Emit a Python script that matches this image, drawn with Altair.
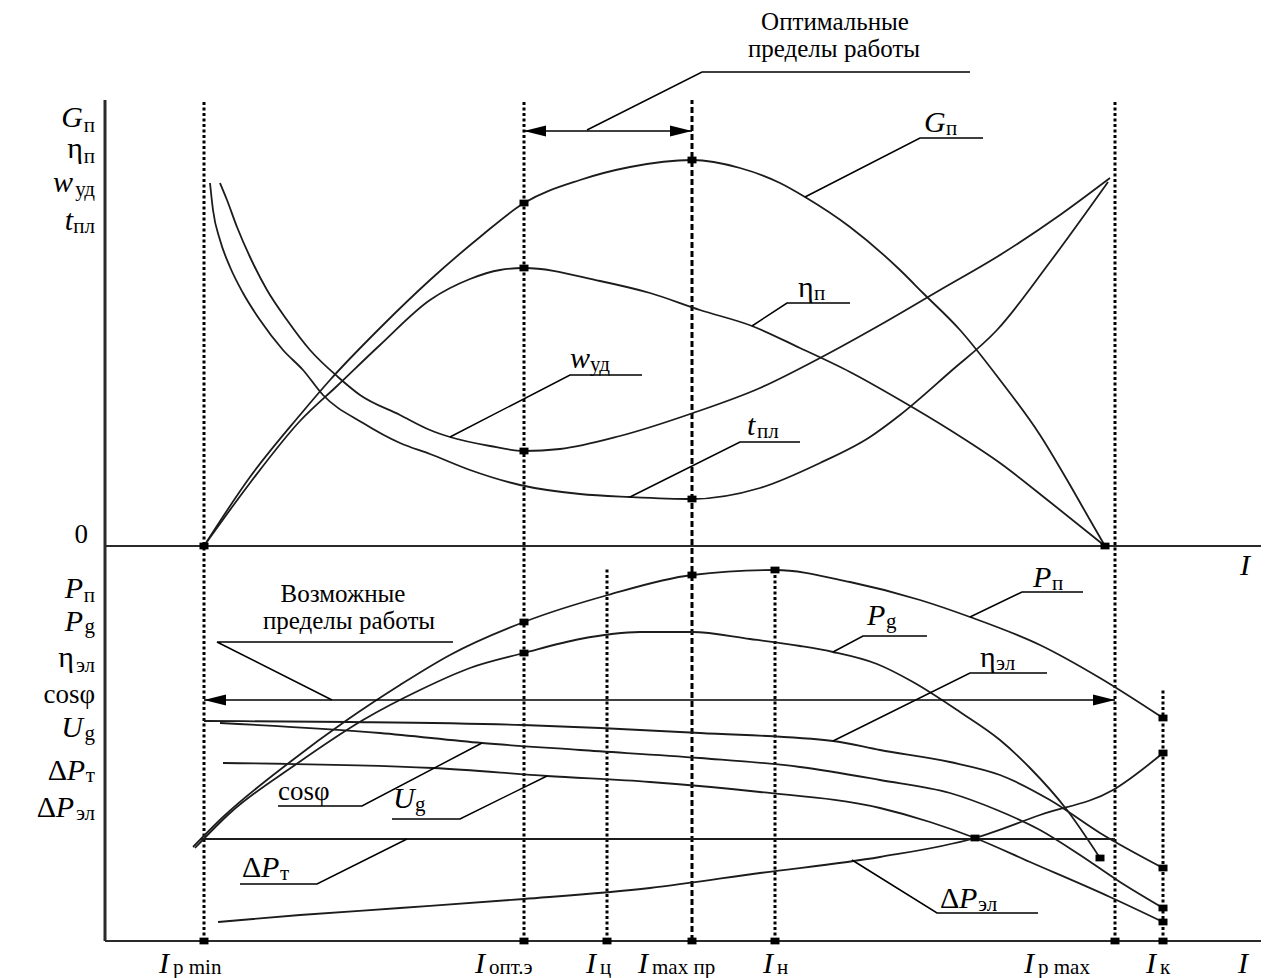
import altair as alt
import pandas as pd

# Shared value units: x = current I (arbitrary units), y = value (arbitrary units).
# The upper family of curves is drawn above its own zero line at UPPER_ZERO.
UPPER_ZERO = 395

# ---------------- upper panel (values above the upper zero line) ----------------
G_I = [99, 145, 195, 225, 275, 325, 375, 419, 475, 525, 587, 635, 675, 700, 745, 795, 818, 855, 895, 935, 965, 985, 1000]
G_V = [0, 69, 131, 166, 218, 266, 309, 343, 366, 379, 386, 378, 363, 349, 319, 276, 253, 216, 166, 111, 61, 26, 0]

ETAP_I = [99, 145, 195, 232, 275, 325, 365, 395, 419, 495, 545, 595, 647, 695, 745, 795, 845, 895, 945, 1000]
ETAP_V = [0, 63, 125, 160, 201, 246, 267, 276, 278, 265, 253, 236, 220, 198, 174, 146, 116, 83, 44, 0]

W_I = [115, 122, 132, 145, 162, 182, 205, 233, 255, 295, 325, 345, 385, 419, 455, 515, 588, 655, 715, 775, 835, 895, 955, 1005]
W_V = [363, 346, 319, 289, 256, 226, 196, 169, 151, 131, 116, 109, 100, 95, 97, 110, 133, 158, 188, 221, 256, 291, 331, 368]

T_I = [105, 108, 115, 125, 138, 155, 178, 198, 218, 258, 295, 325, 365, 415, 475, 525, 587, 655, 715, 765, 795, 845, 892, 945, 1003]
T_V = [363, 336, 306, 279, 253, 226, 196, 176, 151, 123, 103, 92, 76, 61, 52, 49, 47, 58, 83, 109, 131, 174, 216, 284, 364]

# ---------------- lower panel (values above the I axis) ----------------
PP_I = [88, 118, 185, 242, 295, 345, 419, 503, 587, 670, 745, 815, 865, 935, 995, 1058]
PP_V = [94, 124, 179, 221, 256, 286, 319, 346, 366, 371, 359, 341, 324, 296, 263, 223]

PG_I = [90, 125, 190, 258, 315, 365, 419, 475, 535, 587, 645, 695, 728, 772, 808, 855, 895, 925, 962, 995]
PG_V = [93, 128, 176, 221, 251, 273, 288, 302, 309, 309, 302, 295, 289, 277, 259, 229, 201, 173, 131, 83]

ETAE_I = [99, 245, 418, 495, 595, 728, 775, 845, 895, 945, 995, 1058]
ETAE_V = [220, 219, 216, 213, 208, 200, 191, 179, 166, 141, 108, 73]

COS_I = [115, 275, 377, 475, 595, 695, 775, 845, 892, 935, 975, 1015, 1058]
COS_V = [218, 208, 198, 191, 183, 174, 161, 148, 131, 111, 86, 59, 33]

UG_I = [118, 328, 442, 545, 655, 775, 825, 870, 925, 1005, 1058]
UG_V = [178, 173, 165, 159, 149, 133, 119, 103, 79, 44, 19]

DPT_I = [95, 1010]
DPT_V = [102, 102]

DPE_I = [113, 195, 295, 419, 545, 655, 775, 870, 935, 1008, 1058]
DPE_V = [19, 26, 33, 42, 53, 68, 84, 103, 126, 151, 188]

# characteristic currents on the I axis
I_NAMES = ["Ip_min", "Iopt", "Ic", "Imax_pr", "In", "Ip_max", "Ik"]
I_POS = [99, 419, 502, 587, 670, 1010, 1058]
I_TOP = [841, 841, 373, 841, 373, 841, 251]

# marked points
MK_UP_I = [99, 419, 419, 419, 587, 587, 1000]
MK_UP_V = [0, 343, 278, 95, 386, 47, 0]
MK_LO_I = [419, 419, 587, 670, 870, 995, 1058, 1058, 1058, 1058, 1058]
MK_LO_V = [319, 288, 366, 371, 103, 83, 223, 188, 73, 33, 19]

# ---------------- build tables ----------------
def curve(name, xs, ys, base=0):
    return pd.DataFrame({"name": name, "x": xs, "y": [v + base for v in ys], "o": list(range(len(xs)))})

curves = pd.concat([
    curve("G", G_I, G_V, UPPER_ZERO),
    curve("etap", ETAP_I, ETAP_V, UPPER_ZERO),
    curve("w", W_I, W_V, UPPER_ZERO),
    curve("t", T_I, T_V, UPPER_ZERO),
    curve("Pp", PP_I, PP_V),
    curve("Pg", PG_I, PG_V),
    curve("etae", ETAE_I, ETAE_V),
    curve("cos", COS_I, COS_V),
    curve("Ug", UG_I, UG_V),
    curve("dpe", DPE_I, DPE_V),
])
straight = curve("dpt", DPT_I, DPT_V)

# leader lines (pointer + underline) for the curve names
leaders_raw = {
    "opt": ([482, 597, 865], [811, 869, 869]),
    "G": ([700, 815, 878], [744, 803, 803]),
    "etap": ([647, 682, 745], [615, 638, 638]),
    "w": ([345, 465, 537], [504, 566, 566]),
    "t": ([525, 635, 695], [444, 499, 499]),
    "vozm": ([227, 112, 348], [241, 299, 299]),
    "Pp": ([865, 917, 978], [324, 349, 349]),
    "Pg": ([728, 758, 822], [289, 305, 305]),
    "etae": ([728, 865, 942], [200, 268, 268]),
    "cos": ([377, 257, 173], [198, 135, 135]),
    "Ug": ([442, 355, 287], [165, 122, 122]),
    "dpt": ([302, 212, 135], [102, 57, 57]),
    "dpe": ([747, 832, 933], [81, 28, 28]),
}
leaders = pd.concat([curve(k, v[0], v[1]) for k, v in leaders_raw.items()])

vlines = pd.DataFrame({"name": I_NAMES, "x": I_POS, "y": [0] * len(I_POS), "y2": I_TOP})
vl_dot = vlines[vlines["name"] != "Imax_pr"]
vl_dash = vlines[vlines["name"] == "Imax_pr"]

axes = pd.DataFrame({
    "x": [0, 0, 0], "x2": [0, 1156, 1156],
    "y": [0, UPPER_ZERO, 0], "y2": [841, UPPER_ZERO, 0],
    "w": [3.0, 2.2, 2.2],
})

arrows = pd.DataFrame({"x": [419, 99], "x2": [587, 1010], "y": [810, 241]})
heads_left = pd.DataFrame({"x": [430, 110], "y": [810, 241]})
heads_right = pd.DataFrame({"x": [576, 999], "y": [810, 241]})

markers = pd.DataFrame({
    "x": MK_UP_I + MK_LO_I + I_POS,
    "y": [v + UPPER_ZERO for v in MK_UP_V] + MK_LO_V + [0] * len(I_POS),
})

# text pieces: (text, x, y, style, align)
texts = [
    # upper-left scale names
    ("G", -22, 814, "main", "right"), ("п", -10, 809, "sub", "right"),
    ("η", -22, 783, "greek", "right"), ("п", -10, 778, "sub", "right"),
    ("w", -32, 749, "main", "right"), ("уд", -10, 745, "sub", "right"),
    ("t", -32, 711, "main", "right"), ("пл", -10, 708, "sub", "right"),
    ("0", -17, 398, "plain", "right"),
    # lower-left scale names
    ("P", -22, 343, "main", "right"), ("п", -10, 339, "sub", "right"),
    ("P", -22, 310, "main", "right"), ("g", -10, 308, "sub", "right"),
    ("η", -31, 274, "greek", "right"), ("эл", -10, 269, "sub", "right"),
    ("cosφ", -10, 238, "plain", "right"),
    ("U", -22, 204, "main", "right"), ("g", -10, 201, "sub", "right"),
    ("Δ", -38, 161, "greek", "right"), ("P", -20, 161, "main", "right"), ("т", -10, 159, "sub", "right"),
    ("Δ", -49, 124, "greek", "right"), ("P", -31, 124, "main", "right"), ("эл", -10, 121, "sub", "right"),
    # curve names
    ("G", 819, 809, "main", "left"), ("п", 841, 806, "sub", "left"),
    ("η", 693, 644, "greek", "left"), ("п", 709, 641, "sub", "left"),
    ("w", 465, 573, "main", "left"), ("уд", 485, 570, "sub", "left"),
    ("t", 642, 506, "main", "left"), ("пл", 652, 503, "sub", "left"),
    ("P", 928, 354, "main", "left"), ("п", 947, 351, "sub", "left"),
    ("P", 762, 316, "main", "left"), ("g", 781, 313, "sub", "left"),
    ("η", 875, 274, "greek", "left"), ("эл", 891, 271, "sub", "left"),
    ("cosφ", 173, 141, "plain", "left"),
    ("U", 288, 133, "main", "left"), ("g", 310, 130, "sub", "left"),
    ("Δ", 137, 64, "greek", "left"), ("P", 156, 64, "main", "left"), ("т", 175, 61, "sub", "left"),
    ("Δ", 835, 33, "greek", "left"), ("P", 854, 33, "main", "left"), ("эл", 873, 30, "sub", "left"),
    # current labels
    ("I", 54, -32, "main", "left"), ("р min", 68, -33, "sub", "left"),
    ("I", 370, -32, "main", "left"), ("опт.э", 384, -33, "sub", "left"),
    ("I", 481, -32, "main", "left"), ("ц", 495, -33, "sub", "left"),
    ("I", 533, -32, "main", "left"), ("max пр", 547, -33, "sub", "left"),
    ("I", 658, -32, "main", "left"), ("н", 672, -33, "sub", "left"),
    ("I", 919, -32, "main", "left"), ("р max", 933, -33, "sub", "left"),
    ("I", 1041, -32, "main", "left"), ("к", 1055, -33, "sub", "left"),
    ("I", 1133, -32, "main", "left"),
    ("I", 1135, 366, "main", "left"),
    # notes
    ("Оптимальные", 730, 911, "note", "center"),
    ("пределы работы", 729, 884, "note", "center"),
    ("Возможные", 238, 339, "note", "center"),
    ("пределы работы", 244, 312, "note", "center"),
]
tdf = pd.DataFrame(texts, columns=["t", "x", "y", "style", "align"])

STYLES = {
    "main": dict(fontSize=30, fontStyle="italic"),
    "sub": dict(fontSize=21, fontStyle="normal"),
    "greek": dict(fontSize=30, fontStyle="normal"),
    "plain": dict(fontSize=27, fontStyle="normal"),
    "note": dict(fontSize=25, fontStyle="normal"),
}

# ---------------- encodings ----------------
X = alt.X("x:Q", scale=alt.Scale(domain=[-97, 1156], nice=False, zero=False), axis=None)
Y = alt.Y("y:Q", scale=alt.Scale(domain=[-37, 933], nice=False, zero=False), axis=None)
INK = "#1c1c1c"

layers = []
layers.append(alt.Chart(axes).mark_rule(color="#2a2a2a").encode(
    x=X, y=Y, x2="x2:Q", y2="y2:Q", strokeWidth=alt.StrokeWidth("w:Q", scale=None)))
layers.append(alt.Chart(vl_dot).mark_rule(color="black", strokeWidth=3, strokeDash=[3, 2.5]).encode(
    x=X, y=Y, y2="y2:Q"))
layers.append(alt.Chart(vl_dash).mark_rule(color="black", strokeWidth=3, strokeDash=[6, 3]).encode(
    x=X, y=Y, y2="y2:Q"))
layers.append(alt.Chart(curves).mark_line(interpolate="monotone", color=INK, strokeWidth=1.8).encode(
    x=X, y=Y, detail="name:N", order="o:Q"))
layers.append(alt.Chart(straight).mark_line(color=INK, strokeWidth=1.8).encode(
    x=X, y=Y, order="o:Q"))
layers.append(alt.Chart(leaders).mark_line(color="black", strokeWidth=1.5).encode(
    x=X, y=Y, detail="name:N", order="o:Q"))
layers.append(alt.Chart(arrows).mark_rule(color="black", strokeWidth=1.6).encode(
    x=X, y=Y, x2="x2:Q"))
layers.append(alt.Chart(heads_left).mark_point(
    shape="M-1,0L1,-0.5L1,0.5Z", filled=True, size=484, color="black", opacity=1, strokeWidth=0).encode(x=X, y=Y))
layers.append(alt.Chart(heads_right).mark_point(
    shape="M1,0L-1,-0.5L-1,0.5Z", filled=True, size=484, color="black", opacity=1, strokeWidth=0).encode(x=X, y=Y))
layers.append(alt.Chart(markers).mark_point(
    shape="M-1,-0.75L1,-0.75L1,0.75L-1,0.75Z", filled=True, size=81, color="black", opacity=1, strokeWidth=0).encode(x=X, y=Y))

for (style, align), sub in tdf.groupby(["style", "align"]):
    layers.append(alt.Chart(sub).mark_text(
        align=align, baseline="alphabetic", font="Liberation Serif", color="black", **STYLES[style]
    ).encode(x=X, y=Y, text="t:N"))

chart = alt.layer(*layers).properties(
    width=1253, height=970, autosize=alt.AutoSizeParams(type="none"), padding=0, background="white"
).configure_view(stroke=None)

chart.save("out.html", embed_options={"renderer": "svg", "actions": False})
